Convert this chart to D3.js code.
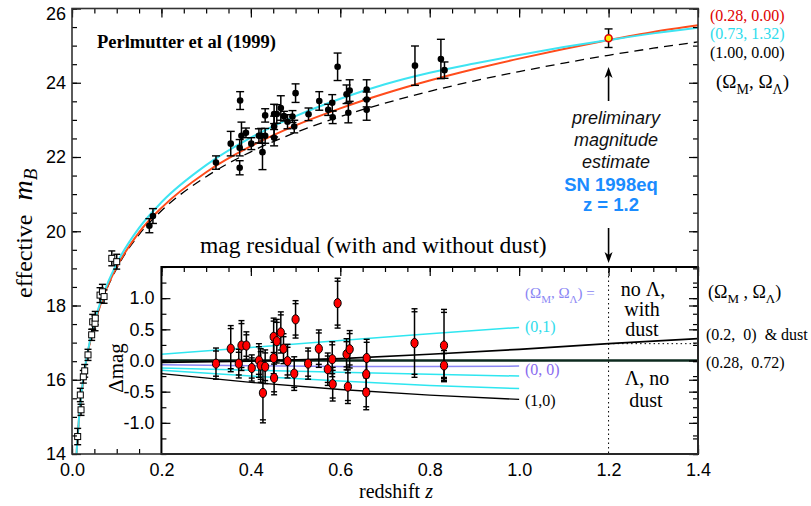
<!DOCTYPE html>
<html>
<head>
<meta charset="utf-8">
<script src="https://cdn.jsdelivr.net/npm/d3@7"></script>
<style>
body { margin: 0; background: #fff; }
svg { display: block; }
</style>
</head>
<body>
<div id="chart"></div>
<script>
// ---- main panel: model curves ----
var curveZ  = [0.009, 0.01, 0.015, 0.02, 0.03, 0.04, 0.05, 0.07, 0.1, 0.15, 0.2, 0.3, 0.4, 0.5, 0.6, 0.7, 0.8, 0.9, 1.0, 1.1, 1.2, 1.3, 1.4];
var mOpen   = [13.73, 13.96, 14.85, 15.48, 16.37, 17.00, 17.50, 18.24, 19.04, 19.97, 20.63, 21.59, 22.29, 22.85, 23.31, 23.71, 24.06, 24.37, 24.65, 24.91, 25.15, 25.37, 25.55]; // (0.28, 0.00)
var mClosed = [13.74, 13.97, 14.86, 15.50, 16.40, 17.04, 17.55, 18.31, 19.13, 20.09, 20.78, 21.78, 22.52, 23.10, 23.57, 23.96, 24.27, 24.52, 24.75, 24.96, 25.15, 25.33, 25.48]; // (0.73, 1.32)
var mEdS    = [13.73, 13.96, 14.84, 15.47, 16.36, 16.98, 17.48, 18.21, 19.00, 19.91, 20.55, 21.47, 22.14, 22.66, 23.09, 23.45, 23.77, 24.05, 24.30, 24.53, 24.74, 24.93, 25.10]; // (1.00, 0.00)

// high-redshift SNe
var hiZ   = [0.173, 0.181, 0.322, 0.355, 0.376, 0.375, 0.375, 0.379, 0.389, 0.401, 0.418, 0.423, 0.426, 0.432, 0.432, 0.452, 0.452, 0.452, 0.458, 0.467, 0.474, 0.482, 0.493, 0.497, 0.500, 0.529, 0.553, 0.573, 0.582, 0.583, 0.594, 0.614, 0.621, 0.618, 0.659, 0.659, 0.659, 0.767, 0.825, 0.833];
var hiM   = [20.15, 20.41, 21.85, 22.36, 23.52, 22.25, 21.71, 22.57, 22.65, 22.36, 22.57, 22.57, 22.13, 22.57, 23.12, 23.16, 22.82, 22.52, 23.16, 23.32, 23.10, 22.95, 23.09, 22.82, 23.72, 23.15, 23.51, 23.27, 23.46, 23.07, 24.43, 23.69, 23.79, 23.19, 23.82, 23.55, 23.27, 24.46, 24.64, 24.34];
var hiErr = [0.19, 0.20, 0.18, 0.33, 0.24, 0.22, 0.19, 0.37, 0.13, 0.16, 0.19, 0.20, 0.47, 0.20, 0.18, 0.26, 0.28, 0.22, 0.25, 0.33, 0.13, 0.19, 0.16, 0.17, 0.25, 0.17, 0.25, 0.15, 0.22, 0.17, 0.37, 0.25, 0.29, 0.27, 0.26, 0.20, 0.28, 0.53, 0.53, 0.22];

// low-redshift SNe (open squares)
var loZ   = [0.0127, 0.0186, 0.0202, 0.0253, 0.0284, 0.0358, 0.044, 0.0463, 0.0515, 0.052, 0.0627, 0.068, 0.0717, 0.089, 0.100];
var loM   = [14.47, 15.59, 15.19, 16.08, 16.24, 16.67, 17.21, 17.56, 17.52, 17.66, 18.28, 18.37, 18.24, 19.27, 19.18];
var loErr = [0.22, 0.18, 0.15, 0.17, 0.17, 0.15, 0.15, 0.20, 0.20, 0.18, 0.20, 0.20, 0.18, 0.20, 0.20];

// SN 1998eq
var eqZ = [1.2], eqM = [25.2], eqErr = [0.25];

// ---- inset: magnitude residuals ----
var resZ   = [0.322, 0.355, 0.373, 0.379, 0.390, 0.402, 0.418, 0.422, 0.427, 0.432, 0.451, 0.451, 0.452, 0.458, 0.467, 0.473, 0.482, 0.497, 0.500, 0.528, 0.552, 0.572, 0.582, 0.583, 0.594, 0.614, 0.617, 0.621, 0.659, 0.658, 0.658, 0.766, 0.832, 0.832];
var resD   = [-0.05, 0.19, -0.05, 0.24, 0.24, -0.12, 0.00, -0.08, -0.52, -0.10, 0.38, 0.04, -0.28, 0.31, 0.45, 0.19, -0.01, -0.21, 0.66, -0.05, 0.19, -0.14, 0.02, -0.38, 0.92, 0.10, -0.42, 0.18, 0.04, -0.22, -0.51, 0.28, 0.24, -0.08];
var resErr = [0.25, 0.37, 0.23, 0.40, 0.22, 0.21, 0.27, 0.27, 0.48, 0.27, 0.30, 0.30, 0.27, 0.35, 0.33, 0.24, 0.27, 0.27, 0.30, 0.25, 0.30, 0.26, 0.28, 0.27, 0.40, 0.25, 0.27, 0.30, 0.30, 0.28, 0.28, 0.55, 0.58, 0.24];

var lineZ      = [0.2, 0.4, 0.6, 0.8, 1.0];
var res01      = [0.10, 0.21, 0.32, 0.43, 0.53];
var res00      = [-0.07, -0.085, -0.095, -0.095, -0.09];
var resCyanA   = [-0.12, -0.155, -0.19, -0.22, -0.25];
var resCyanB   = [-0.155, -0.25, -0.33, -0.40, -0.45];
var res10      = [-0.21, -0.35, -0.465, -0.555, -0.625];
var dustZ      = [0.2, 0.4, 0.6, 0.8, 1.0, 1.2, 1.4];
var resDust    = [-0.03, -0.01, 0.03, 0.10, 0.18, 0.27, 0.35];
var flatZ      = [0.2, 1.4];
var resFlat    = [0, 0];

var W = 811, H = 506;
var serif = "'Liberation Serif', 'Times New Roman', serif";
var sans = "'Liberation Sans', Arial, sans-serif";

var svg = d3.select("#chart").append("svg")
    .attr("width", W).attr("height", H)
    .style("font-family", serif);

var x  = d3.scaleLinear().domain([0, 1.4]).range([72, 698]);
var y  = d3.scaleLinear().domain([14, 26]).range([454, 8.5]);
var yi = d3.scaleLinear().domain([-1.5, 1.5]).range([454, 267]);

var zip = function(a, b) { return a.map(function(v, i) { return [v, b[i]]; }); };

svg.append("clipPath").attr("id", "mainClip")
    .append("rect").attr("x", 72).attr("y", 8.5).attr("width", 626).attr("height", 445.5);

// ---- main curves ----
var line = d3.line().x(function(d) { return x(d[0]); }).y(function(d) { return y(d[1]); }).curve(d3.curveMonotoneX);
var curves = svg.append("g").attr("clip-path", "url(#mainClip)");
curves.append("path").attr("d", line(zip(curveZ, mEdS)))
    .attr("fill", "none").attr("stroke", "#000").attr("stroke-width", 1.3).attr("stroke-dasharray", "9,6");
curves.append("path").attr("d", line(zip(curveZ, mOpen)))
    .attr("fill", "none").attr("stroke", "#ff4c1c").attr("stroke-width", 2);
curves.append("path").attr("d", line(zip(curveZ, mClosed)))
    .attr("fill", "none").attr("stroke", "#3ee4f2").attr("stroke-width", 2);

var errorBars = function(g, xs, ys, es, ys2, capW, doubleCap) {
    var idx = d3.range(xs.length);
    g.selectAll(null).data(idx).enter().append("line")
        .attr("x1", function(i) { return x(xs[i]); })
        .attr("x2", function(i) { return x(xs[i]); })
        .attr("y1", function(i) { return ys2(ys[i] - es[i]); })
        .attr("y2", function(i) { return ys2(ys[i] + es[i]); })
        .attr("stroke", "#000").attr("stroke-width", 1.5);
    [-1, 1].forEach(function(s) {
        var offs = doubleCap ? [0, 3] : [0];
        offs.forEach(function(o) {
            g.selectAll(null).data(idx).enter().append("line")
                .attr("x1", function(i) { return x(xs[i]) - capW / 2; })
                .attr("x2", function(i) { return x(xs[i]) + capW / 2; })
                .attr("y1", function(i) { return ys2(ys[i] + s * es[i]) + s * o; })
                .attr("y2", function(i) { return ys2(ys[i] + s * es[i]) + s * o; })
                .attr("stroke", "#000").attr("stroke-width", 1.4);
        });
    });
};

// low-z squares
var gLo = svg.append("g");
errorBars(gLo, loZ, loM, loErr, y, 7, false);
gLo.selectAll("rect").data(d3.range(loZ.length)).enter().append("rect")
    .attr("x", function(i) { return x(loZ[i]) - 3; })
    .attr("y", function(i) { return y(loM[i]) - 3; })
    .attr("width", 6).attr("height", 6)
    .attr("fill", "#fff").attr("stroke", "#000").attr("stroke-width", 1);

// high-z points
var gHi = svg.append("g");
errorBars(gHi, hiZ, hiM, hiErr, y, 8, false);
gHi.selectAll("circle").data(d3.range(hiZ.length)).enter().append("circle")
    .attr("cx", function(i) { return x(hiZ[i]); })
    .attr("cy", function(i) { return y(hiM[i]); })
    .attr("r", 3.3).attr("fill", "#000");

// SN 1998eq
var gEq = svg.append("g");
errorBars(gEq, eqZ, eqM, eqErr, y, 8, false);
gEq.append("circle").attr("cx", x(eqZ[0])).attr("cy", y(eqM[0])).attr("r", 3.5)
    .attr("fill", "#ffee00").attr("stroke", "#e00000").attr("stroke-width", 1.6);

// ---- main axes ----
var styleAxis = function(g) {
    g.select(".domain").remove();
    g.selectAll("line").attr("stroke", "#000").attr("stroke-width", 1.2);
    g.selectAll("text").style("font-family", sans).style("font-size", "18px").attr("fill", "#000");
};
var range = function(a, b, s) { return d3.range(Math.round((b - a) / s) + 1).map(function(k) { return +(a + k * s).toFixed(3); }); };

svg.append("g").attr("transform", "translate(0,454)")
    .call(d3.axisBottom(x).tickValues(range(0, 1.4, 0.05)).tickSize(-5).tickFormat("")).call(styleAxis);
svg.append("g").attr("transform", "translate(0,454)")
    .call(d3.axisBottom(x).tickValues(range(0, 1.4, 0.2)).tickSize(-9).tickPadding(9)
        .tickFormat(function(d) { return d.toFixed(1); })).call(styleAxis);
svg.append("g").attr("transform", "translate(0,8.5)")
    .call(d3.axisTop(x).tickValues(range(0, 1.4, 0.05)).tickSize(-5).tickFormat("")).call(styleAxis);
svg.append("g").attr("transform", "translate(0,8.5)")
    .call(d3.axisTop(x).tickValues(range(0, 1.4, 0.2)).tickSize(-9).tickFormat("")).call(styleAxis);
svg.append("g").attr("transform", "translate(72,0)")
    .call(d3.axisLeft(y).tickValues(range(14, 26, 0.5)).tickSize(-5).tickFormat("")).call(styleAxis);
var yAx = svg.append("g").attr("transform", "translate(72,0)")
    .call(d3.axisLeft(y).tickValues(range(14, 26, 2)).tickSize(-9).tickPadding(6).tickFormat(d3.format("d")))
    .call(styleAxis);
yAx.selectAll("text").filter(function(d) { return d === 26; }).attr("dy", "0.62em");

// ---- inset ----
var inset = svg.append("g");
inset.append("rect").attr("x", x(0.2)).attr("y", yi(1.5)).attr("width", x(1.4) - x(0.2)).attr("height", yi(-1.5) - yi(1.5))
    .attr("fill", "#fff");

var iline = d3.line().x(function(d) { return x(d[0]); }).y(function(d) { return yi(d[1]); });
inset.append("path").attr("d", iline(zip(lineZ, res10))).attr("fill", "none").attr("stroke", "#000").attr("stroke-width", 1.3);
inset.append("path").attr("d", iline(zip(lineZ, resCyanB))).attr("fill", "none").attr("stroke", "#2ee6f0").attr("stroke-width", 1.5);
inset.append("path").attr("d", iline(zip(lineZ, resCyanA))).attr("fill", "none").attr("stroke", "#2ee6f0").attr("stroke-width", 1.5);
inset.append("path").attr("d", iline(zip(lineZ, res00))).attr("fill", "none").attr("stroke", "#8a86f4").attr("stroke-width", 1.5);
inset.append("path").attr("d", iline(zip(lineZ, res01))).attr("fill", "none").attr("stroke", "#2ee6f0").attr("stroke-width", 1.5);
inset.append("path").attr("d", iline(zip(flatZ, resFlat))).attr("fill", "none").attr("stroke", "#0c2a1e").attr("stroke-width", 2.6);
inset.append("path").attr("d", iline(zip(dustZ, resDust))).attr("fill", "none").attr("stroke", "#000").attr("stroke-width", 1.7);

// z = 1.2 markers
inset.append("line").attr("x1", x(1.2)).attr("x2", x(1.2)).attr("y1", yi(1.5)).attr("y2", yi(-1.5))
    .attr("stroke", "#000").attr("stroke-width", 1).attr("stroke-dasharray", "1.5,3");
inset.append("line").attr("x1", x(1.2)).attr("x2", x(1.4)).attr("y1", yi(resDust[5])).attr("y2", yi(resDust[5]))
    .attr("stroke", "#000").attr("stroke-width", 1).attr("stroke-dasharray", "1.5,3");

var gRes = inset.append("g");
errorBars(gRes, resZ, resD, resErr, yi, 6, true);
gRes.selectAll("ellipse").data(d3.range(resZ.length)).enter().append("ellipse")
    .attr("cx", function(i) { return x(resZ[i]); })
    .attr("cy", function(i) { return yi(resD[i]); })
    .attr("rx", 3.6).attr("ry", 4.6)
    .attr("fill", "#f00").attr("stroke", "#000").attr("stroke-width", 1);

// inset axes
inset.append("g").attr("transform", "translate(" + x(0.2) + ",0)")
    .call(d3.axisLeft(yi).tickValues(range(-1.5, 1.5, 0.25)).tickSize(-5).tickFormat("")).call(styleAxis);
inset.append("g").attr("transform", "translate(" + x(0.2) + ",0)")
    .call(d3.axisLeft(yi).tickValues([-1, -0.5, 0, 0.5, 1]).tickSize(-9).tickPadding(7)
        .tickFormat(function(d) { return d.toFixed(1); })).call(styleAxis);
inset.append("g").attr("transform", "translate(0," + yi(1.5) + ")")
    .call(d3.axisTop(x).tickValues(range(0.2, 1.4, 0.05)).tickSize(-5).tickFormat("")).call(styleAxis);
inset.append("g").attr("transform", "translate(0," + yi(1.5) + ")")
    .call(d3.axisTop(x).tickValues(range(0.2, 1.4, 0.2)).tickSize(-9).tickFormat("")).call(styleAxis);
inset.append("g").attr("transform", "translate(" + x(1.4) + ",0)")
    .call(d3.axisRight(yi).tickValues(range(-1.5, 1.5, 0.25)).tickSize(-5).tickFormat("")).call(styleAxis);
inset.append("g").attr("transform", "translate(" + x(1.4) + ",0)")
    .call(d3.axisRight(yi).tickValues([-1, -0.5, 0, 0.5, 1]).tickSize(-9).tickFormat("")).call(styleAxis);
inset.append("rect").attr("x", x(0.2)).attr("y", yi(1.5)).attr("width", x(1.4) - x(0.2)).attr("height", yi(-1.5) - yi(1.5))
    .attr("fill", "none").attr("stroke", "#000").attr("stroke-width", 2);

// main right axis and frame on top
svg.append("g").attr("transform", "translate(698,0)")
    .call(d3.axisRight(y).tickValues(range(14, 26, 0.5)).tickSize(-5).tickFormat("")).call(styleAxis);
svg.append("g").attr("transform", "translate(698,0)")
    .call(d3.axisRight(y).tickValues(range(14, 26, 2)).tickSize(-9).tickFormat("")).call(styleAxis);
svg.append("rect").attr("x", 72).attr("y", 8.5).attr("width", 626).attr("height", 445.5)
    .attr("fill", "none").attr("stroke", "#333").attr("stroke-width", 1.6);

// ---- text ----
var richText = function(g, px, py, parts, size, color, anchor) {
    var t = g.append("text").attr("x", px).attr("y", py).attr("fill", color)
        .style("font-size", size + "px").attr("text-anchor", anchor || "start");
    var shift = 0;
    parts.forEach(function(p) {
        var s = t.append("tspan").text(p[0]);
        var want = p[1] === "sub" ? Math.round(size * 0.3) : 0;
        if (want !== shift) { s.attr("dy", want - shift); shift = want; }
        if (p[1] === "sub") s.style("font-size", Math.round(size * 0.72) + "px");
    });
    return t;
};

svg.append("text").attr("x", 97).attr("y", 48).text("Perlmutter et al (1999)")
    .style("font-size", "18.5px").style("font-weight", "bold");

svg.append("text").attr("x", 710).attr("y", 21).text("(0.28, 0.00)").attr("fill", "#e00000").style("font-size", "16px");
svg.append("text").attr("x", 710).attr("y", 39).text("(0.73, 1.32)").attr("fill", "#2fdcec").style("font-size", "16px");
svg.append("text").attr("x", 710).attr("y", 57.5).text("(1.00, 0.00)").attr("fill", "#000").style("font-size", "16px");
richText(svg, 716, 88, [["(Ω", ""], ["M", "sub"], [", Ω", ""], ["Λ", "sub"], [")", ""]], 19, "#000");

// annotation for SN 1998eq
var ann = svg.append("g").style("font-family", sans).attr("text-anchor", "middle");
[["preliminary", 124], ["magnitude", 146], ["estimate", 168]].forEach(function(d) {
    ann.append("text").attr("x", 616).attr("y", d[1]).text(d[0])
        .style("font-size", "18px").style("font-style", "italic").attr("fill", "#111");
});
ann.append("text").attr("x", 611).attr("y", 191).text("SN 1998eq")
    .style("font-size", "18.5px").style("font-weight", "bold").attr("fill", "#1a8cff");
ann.append("text").attr("x", 611).attr("y", 211).text("z = 1.2")
    .style("font-size", "18.5px").style("font-weight", "bold").attr("fill", "#1a8cff");

var arrow = function(x0, yFrom, yTo) {
    var dir = yTo < yFrom ? -1 : 1;
    svg.append("line").attr("x1", x0).attr("x2", x0).attr("y1", yFrom).attr("y2", yTo - dir * 8)
        .attr("stroke", "#000").attr("stroke-width", 1.6);
    svg.append("path").attr("d", "M" + (x0 - 4) + "," + (yTo - dir * 11) + "L" + x0 + "," + yTo + "L" + (x0 + 4) + "," + (yTo - dir * 11) + "L" + x0 + "," + (yTo - dir * 8) + "Z")
        .attr("fill", "#000");
};
arrow(x(1.2), 101, 67);
arrow(x(1.2), 228, 263);

svg.append("text").attr("x", 200).attr("y", 253).text("mag residual (with and without dust)")
    .style("font-size", "23.5px");

var inTxt = svg.append("g").attr("text-anchor", "middle").style("font-size", "20px");
inTxt.append("text").attr("x", 643).attr("y", 296).text("no Λ,");
inTxt.append("text").attr("x", 642).attr("y", 316).text("with");
inTxt.append("text").attr("x", 642).attr("y", 336).text("dust");
inTxt.append("text").attr("x", 647).attr("y", 385).text("Λ, no");
inTxt.append("text").attr("x", 646).attr("y", 407).text("dust");

richText(svg, 525, 298, [["(Ω", ""], ["M", "sub"], [", Ω", ""], ["Λ", "sub"], [") =", ""]], 15, "#8a86f4");
svg.append("text").attr("x", 525).attr("y", 332).text("(0,1)").attr("fill", "#2fdcec").style("font-size", "16px");
svg.append("text").attr("x", 525).attr("y", 375).text("(0, 0)").attr("fill", "#8a6cf0").style("font-size", "16px");
svg.append("text").attr("x", 525).attr("y", 406).text("(1,0)").attr("fill", "#000").style("font-size", "16px");

richText(svg, 708, 298, [["(Ω", ""], ["M", "sub"], [" , Ω", ""], ["Λ", "sub"], [")", ""]], 18, "#000");
svg.append("text").attr("x", 706).attr("y", 340).text("(0.2,\u00a0\u00a00)\u00a0\u00a0& dust").style("font-size", "16px");
svg.append("text").attr("x", 706).attr("y", 368).text("(0.28,\u00a0\u00a00.72)").style("font-size", "16px");

// axis titles
var yl = svg.append("text").attr("transform", "translate(32,298) rotate(-90)").style("font-size", "24px");
yl.append("tspan").text("effective");
yl.append("tspan").attr("dx", 14).text("m").style("font-style", "italic").style("font-size", "28px");
yl.append("tspan").attr("dy", 5).text("B").style("font-style", "italic").style("font-size", "19px");

svg.append("text").attr("transform", "translate(123,368) rotate(-90)").attr("text-anchor", "middle")
    .text("Δmag").style("font-size", "21px");

var xl = svg.append("text").attr("x", 396).attr("y", 498).attr("text-anchor", "middle").style("font-size", "20px");
xl.append("tspan").text("redshift ");
xl.append("tspan").text("z").style("font-style", "italic");
</script>
</body>
</html>
